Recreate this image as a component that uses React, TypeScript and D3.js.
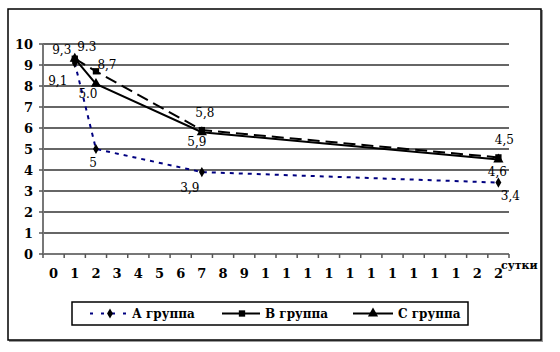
import React from "react";
import * as d3 from "d3";

const days = d3.range(0, 22);
const dayLabels = ["0", "1", "2", "3", "4", "5", "6", "7", "8", "9", "1", "1", "1", "1", "1", "1", "1", "1", "1", "1", "2", "2"];
const yTicks = [0, 1, 2, 3, 4, 5, 6, 7, 8, 9, 10];

const aDays = [1, 2, 7, 21];
const aValues = [9.1, 5.0, 3.9, 3.4];
const aLabels = ["9,1", "5", "3,9", "3,4"];

const bDays = [1, 2, 7, 21];
const bValues = [9.3, 8.7, 5.9, 4.6];
const bLabels = ["9,3", "8,7", "5,9", "4,6"];

const cDays = [1, 2, 7, 21];
const cValues = [9.3, 8.1, 5.8, 4.5];
const cLabels = ["9.3", "5.0", "5,8", "4,5"];

const serif = "DejaVu Serif";

export default function App() {
  const left = 43, right = 509, top = 44, bottom = 254;
  const x = d3.scaleBand<number>().domain(days).range([left, right]);
  const y = d3.scaleLinear().domain([0, 10]).range([bottom, top]);
  const cx = (d: number) => (x(d) as number) + x.bandwidth() / 2;

  const line = d3.line<[number, number]>().x((d) => cx(d[0])).y((d) => y(d[1]));
  const aPts = aDays.map((d, i) => [d, aValues[i]] as [number, number]);
  const bPts = bDays.map((d, i) => [d, bValues[i]] as [number, number]);
  const cPts = cDays.map((d, i) => [d, cValues[i]] as [number, number]);

  const diamond = d3.symbol(d3.symbolDiamond, 30)() as string;
  const square = d3.symbol(d3.symbolSquare, 40)() as string;
  const triangle = d3.symbol(d3.symbolTriangle, 45)() as string;

  // label offsets [dx, dy] per point
  const aOff = [[-17, 22], [-3, 18], [-12, 20], [12, 17]];
  const bOff = [[-13, -5], [11, -2], [-5, 16], [-1, 19]];
  const cOff = [[12, -8], [-8, 14], [3, -15], [6, -16]];

  const lbl = (pts: [number, number][], labels: string[], off: number[][]) =>
    pts.map((p, i) => (
      <text key={i} x={cx(p[0]) + off[i][0]} y={y(p[1]) + off[i][1]} textAnchor="middle"
        fontSize={12} fill="#000">{labels[i]}</text>
    ));

  return (
    <svg width={560} height={352} fontFamily={serif} style={{ position: "absolute", left: 0, top: 0 }}>
      <rect x={0} y={0} width={560} height={352} fill="#fff" />
      <rect x={9} y={10} width={534} height={332} fill="#999" />
      <rect x={8} y={9} width={533} height={331} fill="#fff" stroke="#000" strokeWidth={1.5} />

      {yTicks.filter((t) => t > 0).map((t) => (
        <line key={t} x1={left} x2={right} y1={y(t)} y2={y(t)} stroke="#333" strokeWidth={1.5} />
      ))}
      <line x1={left} x2={left} y1={top} y2={bottom} stroke="#777" strokeWidth={2} />
      <line x1={left} x2={right} y1={bottom} y2={bottom} stroke="#777" strokeWidth={2} />
      {yTicks.map((t) => (
        <g key={t}>
          <line x1={left - 4} x2={left} y1={y(t)} y2={y(t)} stroke="#555" strokeWidth={1.5} />
          <text x={33} y={y(t) + 5} textAnchor="end" fontWeight="bold" fontSize={13}>{t}</text>
        </g>
      ))}
      {days.map((d) => (
        <line key={d} x1={x(d) as number} x2={x(d) as number} y1={bottom} y2={bottom + 4} stroke="#555" strokeWidth={1.5} />
      ))}
      <line x1={right} x2={right} y1={bottom} y2={bottom + 4} stroke="#555" strokeWidth={1.5} />
      {days.map((d, i) => (
        <text key={d} x={cx(d)} y={278} textAnchor="middle" fontWeight="bold" fontSize={13}>{dayLabels[i]}</text>
      ))}
      <text x={501} y={269} fontWeight="bold" fontSize={11}>сутки</text>

      <path d={line(aPts) as string} fill="none" stroke="#000080" strokeWidth={2} strokeDasharray="4,5" />
      <path d={line(bPts) as string} fill="none" stroke="#000" strokeWidth={2} strokeDasharray="12,6" />
      <path d={line(cPts) as string} fill="none" stroke="#000" strokeWidth={2} />

      {aPts.map((p, i) => <path key={i} d={diamond} transform={`translate(${cx(p[0])},${y(p[1])})`} fill="#000" />)}
      {bPts.map((p, i) => <path key={i} d={square} transform={`translate(${cx(p[0])},${y(p[1])})`} fill="#000" />)}
      {cPts.map((p, i) => <path key={i} d={triangle} transform={`translate(${cx(p[0])},${y(p[1])})`} fill="#000" />)}

      {lbl(aPts, aLabels, aOff)}
      {lbl(bPts, bLabels, bOff)}
      {lbl(cPts, cLabels, cOff)}

      <rect x={72} y={302} width={396} height={23} fill="#fff" stroke="#000" strokeWidth={1.5} />
      <line x1={90} x2={130} y1={313.5} y2={313.5} stroke="#000080" strokeWidth={2} strokeDasharray="3,8" />
      <path d={diamond} transform="translate(110,313.5)" fill="#000" />
      <text x={132} y={318} fontWeight="bold" fontSize={12}>А группа</text>
      <line x1={222} x2={260} y1={313.5} y2={313.5} stroke="#000" strokeWidth={2} />
      <path d={square} transform="translate(242,313.5)" fill="#000" />
      <text x={265} y={318} fontWeight="bold" fontSize={12}>В группа</text>
      <line x1={353} x2={393} y1={313.5} y2={313.5} stroke="#000" strokeWidth={2} />
      <path d={triangle} transform="translate(373,313.5)" fill="#000" />
      <text x={398} y={318} fontWeight="bold" fontSize={12}>С группа</text>
    </svg>
  );
}
